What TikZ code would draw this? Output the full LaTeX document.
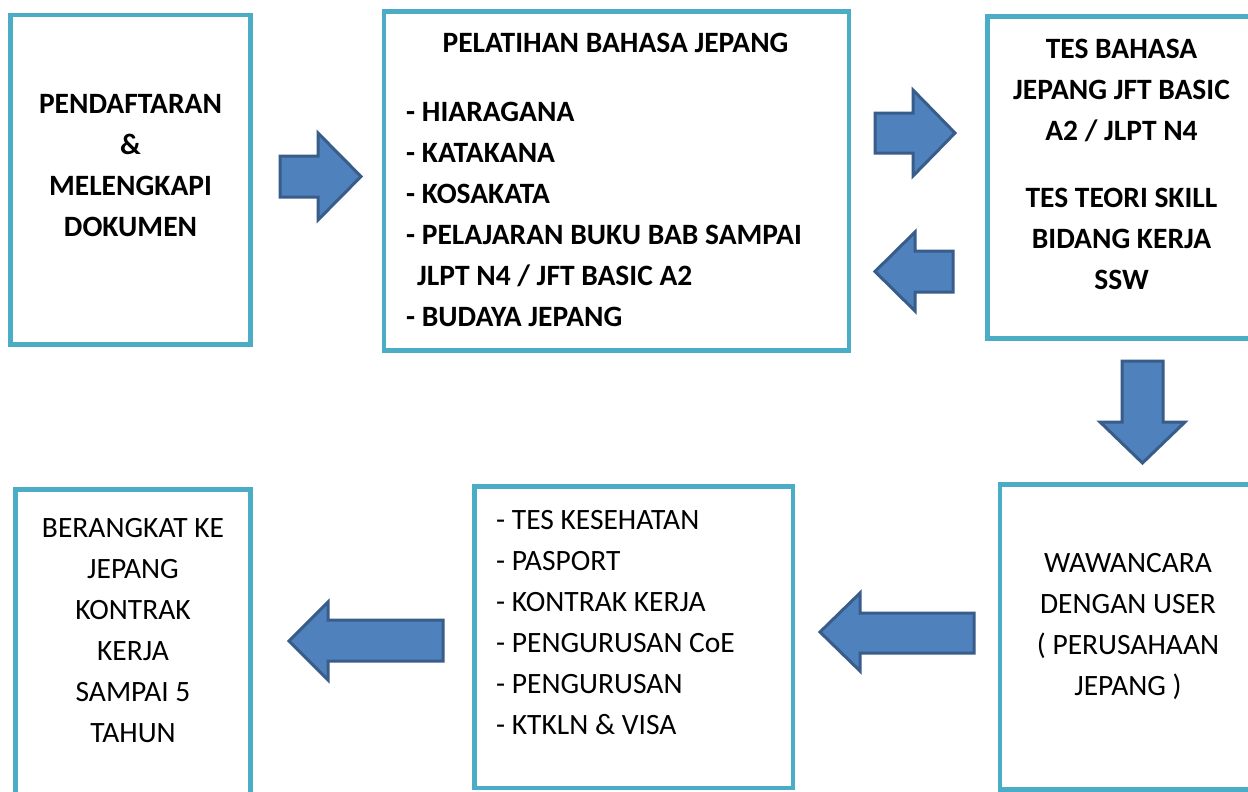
\documentclass[tikz,border=0pt]{standalone}
\usepackage{fontspec}
\setmainfont{Carlito}
\definecolor{boxc}{RGB}{75,172,198}
\definecolor{arrfill}{RGB}{79,129,189}
\definecolor{arrline}{RGB}{56,93,138}
\begin{document}
\begin{tikzpicture}[x=1pt,y=-1pt,
  box/.style={draw=boxc, line width=4.5pt, rectangle, inner sep=0pt, outer sep=0pt},
  toptext/.style={font=\fontsize{29.5}{41}\selectfont\bfseries, inner sep=0pt},
  bottext/.style={font=\fontsize{29.5}{41}\selectfont, inner sep=0pt},
  blockarrow/.style={fill=arrfill, draw=arrline, line width=3pt, line join=miter}]
\useasboundingbox (0,0) rectangle (1248,792);
\clip (0,0) rectangle (1248,792);
\fill[white] (0,0) rectangle (1248,792);

% boxes
\node[box, minimum width=240pt, minimum height=329.5pt] (b1) at (130.5,179.75) {};
\node[box, minimum width=465pt, minimum height=339pt] (b2) at (616.5,181) {};
\node[box, minimum width=312.5pt, minimum height=322pt] (b3) at (1143.75,177.5) {};
\node[box, minimum width=300pt, minimum height=305pt] (b4) at (1150,637) {};
\node[box, minimum width=318.5pt, minimum height=301.5pt] (b5) at (633.75,637.25) {};
\node[box, minimum width=235pt, minimum height=340.5pt] (b6) at (133,659.75) {};

% texts
\node[toptext, align=center] (t1) at (130.5,165.5) {PENDAFTARAN\\\&\\MELENGKAPI\\DOKUMEN};
\node[toptext] (t2a) at (615.5,43) {PELATIHAN BAHASA JEPANG};
\node[toptext, align=left, anchor=west] (t2b) at (406,214) {- HIARAGANA\\- KATAKANA\\- KOSAKATA\\- PELAJARAN BUKU BAB SAMPAI\\\hspace*{11pt}JLPT N4 / JFT BASIC A2\\- BUDAYA JEPANG};
\node[toptext, align=center] (t3) at (1121.5,164.5) {TES BAHASA\\JEPANG JFT BASIC\\A2 / JLPT N4\\[26pt]TES TEORI SKILL\\BIDANG KERJA\\SSW};
\node[bottext, align=center] (t4) at (1128,626) {WAWANCARA\\DENGAN USER\\( PERUSAHAAN\\JEPANG )};
\node[bottext, align=left, anchor=west] (t5) at (496,623) {- TES KESEHATAN\\- PASPORT\\- KONTRAK KERJA\\- PENGURUSAN CoE\\- PENGURUSAN\\- KTKLN \& VISA};
\node[bottext, align=center] (t6) at (133,631) {BERANGKAT KE\\JEPANG\\KONTRAK\\KERJA\\SAMPAI 5\\TAHUN};

% block arrows
\draw[blockarrow] (280,156) -- (318,156) -- (318,133) -- (361,176.5) -- (318,220) -- (318,197) -- (280,197) -- cycle;
\draw[blockarrow] (875,113) -- (913,113) -- (913,90) -- (955,133) -- (913,176) -- (913,153) -- (875,153) -- cycle;
\draw[blockarrow] (953,251) -- (915,251) -- (915,232) -- (875,271.5) -- (915,311) -- (915,292) -- (953,292) -- cycle;
\draw[blockarrow] (1122,361) -- (1163,361) -- (1163,422) -- (1185,422) -- (1142.5,463) -- (1100,422) -- (1122,422) -- cycle;
\draw[blockarrow] (974,613) -- (860,613) -- (860,593) -- (820,632) -- (860,671) -- (860,653) -- (974,653) -- cycle;
\draw[blockarrow] (443,620) -- (328,620) -- (328,602) -- (289,641) -- (328,680) -- (328,661) -- (443,661) -- cycle;
\end{tikzpicture}
\end{document}
